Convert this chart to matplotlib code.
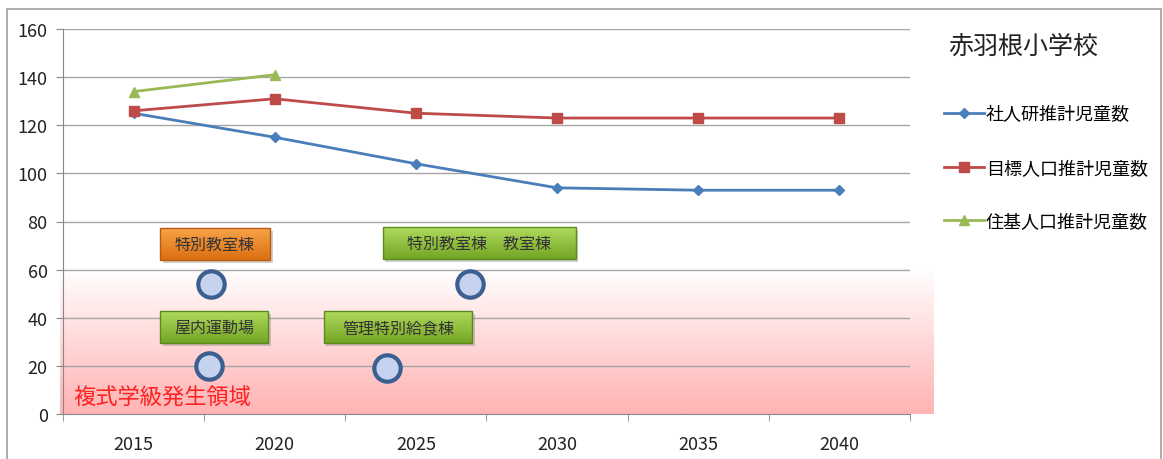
import numpy as np
import matplotlib
matplotlib.use("Agg")
import matplotlib.pyplot as plt
from matplotlib.patches import Rectangle, FancyBboxPatch

plt.rcParams['font.family'] = ['Noto Sans CJK JP', 'DejaVu Sans']

years = ['2015', '2020', '2025', '2030', '2035', '2040']
shajinken = [125, 115, 104, 94, 93, 93]
mokuhyo = [126, 131, 125, 123, 123, 123]
juki = [134, 141, np.nan, np.nan, np.nan, np.nan]

series_names = ['社人研推計児童数', '目標人口推計児童数', '住基人口推計児童数']
chart_title = '赤羽根小学校'
zone_label = '複式学級発生領域'
zone_top = 61

# building labels: (text, centre x, centre y, width, face colour)
boxes = [
    ('特別教室棟', 0.577, 70.5, 0.78, 'orange'),
    ('屋内運動場', 0.570, 36.0, 0.765, 'green'),
    ('特別教室棟　教室棟', 2.447, 71.0, 1.367, 'green'),
    ('管理特別給食棟', 1.873, 36.0, 1.055, 'green'),
]
box_h = 13.3
circles = [(0.548, 54), (0.534, 20), (2.383, 54), (1.795, 19)]

W, H = 1163, 460
fig = plt.figure(figsize=(W / 100, H / 100), dpi=100)
ax = fig.add_axes([63 / W, 45 / H, (910 - 63) / W, (415 - 30) / H])

x = np.arange(len(years))


def vgrad(top, bot, n=128):
    t = np.linspace(0, 1, n)[:, None, None]
    top = np.array(matplotlib.colors.to_rgb(top))
    bot = np.array(matplotlib.colors.to_rgb(bot))
    return (1 - t) * top + t * bot  # row 0 = top


# pink gradient zone
ax.imshow(vgrad('#ffffff', '#ffb3b3'), extent=[-0.52, 5.67, 0, zone_top], aspect='auto',
          origin='upper', zorder=0, clip_on=False, interpolation='bilinear')

for yv in range(20, 161, 20):
    ax.axhline(yv, color='#a6a6a6', lw=1, zorder=1)

ax.plot(x, shajinken, color='#4a7ebb', lw=2, marker='D', ms=5, zorder=4, label=series_names[0])
ax.plot(x, mokuhyo, color='#be4b48', lw=2, marker='s', ms=7, zorder=4, label=series_names[1])
ax.plot(x, juki, color='#98b954', lw=2, marker='^', ms=7, zorder=4, label=series_names[2])

colors = {'orange': ('#f9a64a', '#dc6e12', '#b85a10'),
          'green': ('#b2dc5e', '#74a525', '#5a8a1c')}
for text, bx, by, bw, kind in boxes:
    ctop, cbot, ec = colors[kind]
    x0, y0 = bx - bw / 2, by - box_h / 2
    shadow = Rectangle((x0 + 0.02, y0 - 1.0), bw, box_h, fc='#777777', alpha=0.35,
                       ec='none', zorder=5)
    ax.add_patch(shadow)
    patch = FancyBboxPatch((x0, y0), bw, box_h, boxstyle='square,pad=0', fc='none',
                           ec=ec, lw=1, zorder=6.2)
    ax.add_patch(patch)
    im = ax.imshow(vgrad(ctop, cbot), extent=[x0, x0 + bw, y0, y0 + box_h], aspect='auto',
                   origin='upper', zorder=6, interpolation='bilinear')
    im.set_clip_path(patch)
    ax.text(bx, by, text, ha='center', va='center', fontsize=11.5, color='#333333',
            zorder=7)

for cx, cy in circles:
    ax.plot(cx, cy, marker='o', ms=19, mfc='#c5d3ee', mec='#3c5f91', mew=3, zorder=6,
            clip_on=False)

ax.text(-0.43, 7, zone_label, color='#ff2020', fontsize=16, va='center',
        ha='left', zorder=5)

ax.set_xlim(-0.5, 5.5)
ax.set_ylim(0, 160)
ax.set_yticks(range(0, 161, 20))
ax.set_xticks(x, years)
ax.set_xticks(np.arange(-0.5, 6, 1), minor=True)
ax.tick_params(axis='x', which='major', length=0, pad=15, labelsize=13, labelcolor='#222222')
ax.tick_params(axis='x', which='minor', length=5, color='#888888', direction='out')
ax.tick_params(axis='y', length=5, color='#888888', labelsize=13, labelcolor='#222222', pad=6)
for s in ['top', 'right']:
    ax.spines[s].set_visible(False)
for s in ['left', 'bottom']:
    ax.spines[s].set_color('#888888')
ax.set_facecolor('none')

fig.text(948 / W, 1 - 47 / H, chart_title, fontsize=18, va='center', ha='left', color='#222222')
ax.legend(loc='upper left', bbox_to_anchor=(928 / W, 1 - 90 / H), bbox_transform=fig.transFigure,
          frameon=False, fontsize=13, handlelength=2.2, labelspacing=1.97, handletextpad=0.1)

fig.patches.append(Rectangle((7 / W, -0.05), (1161 - 7) / W, 1 - 10 / H + 0.05,
                             transform=fig.transFigure, fill=False, ec='#a0a0a0', lw=1.2))

fig.savefig('out.png', dpi=100)
